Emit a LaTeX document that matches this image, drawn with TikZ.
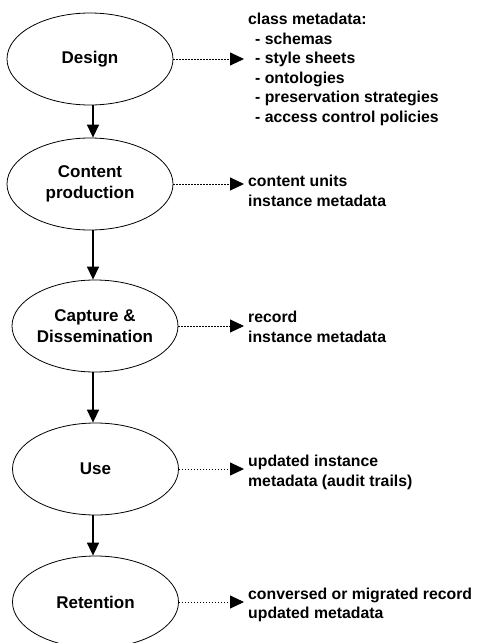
\documentclass[tikz,border=0pt]{standalone}
\usepackage{fontspec}
\setmainfont{Liberation Sans}
\usetikzlibrary{shapes.geometric,arrows.meta}
\begin{document}
\begin{tikzpicture}[x=1pt,y=-1pt,
  stage/.style={draw,ellipse,line width=0.8pt,minimum width=166pt,minimum height=92pt,
    inner sep=0pt,align=center,font=\bfseries\fontsize{17}{21}\selectfont},
  meta/.style={anchor=west,inner sep=0pt,align=left,font=\bfseries\fontsize{15.8}{19.5}\selectfont},
  flow/.style={-{Triangle[length=13pt,width=12pt]},line width=1.5pt},
  feed/.style={dash pattern=on 1.5pt off 1.5pt,line width=1pt,
    -{Triangle[length=14pt,width=13pt]},shorten >=4pt}
]

  \useasboundingbox (0,0) rectangle (477,643);

  \def\xtext{248}
  \coordinate (spine) at (93,0);

  % life cycle stages
  \node[stage] (design)    at (90,59)    {Design};
  \node[stage] (content)   at (90,184)   {Content\\production};
  \node[stage] (capture)   at (95,326)   {Capture \&\\Dissemination};
  \node[stage] (use)       at (95.5,469) {Use};
  \node[stage] (retention) at (95.5,602) {Retention};

  % metadata produced at each stage
  \node[meta,anchor=north west] (classmeta) at (\xtext,13) {class metadata:\\
    \hspace*{7pt}- schemas\\
    \hspace*{7pt}- style sheets\\
    \hspace*{7pt}- ontologies\\
    \hspace*{7pt}- preservation strategies\\
    \hspace*{7pt}- access control policies};
  \node[meta] (units)    at (\xtext,191)   {content units\\instance metadata};
  \node[meta] (record)   at (\xtext,327)   {record\\instance metadata};
  \node[meta] (trails)   at (\xtext,472.5) {updated instance\\metadata (audit trails)};
  \node[meta] (migrated) at (\xtext,605)   {conversed or migrated record\\updated metadata};

  % flow between stages
  \draw[flow] (design.south -| spine)  -- (content.north -| spine);
  \draw[flow] (content.south -| spine) -- (capture.north -| spine);
  \draw[flow] (capture.south -| spine) -- (use.north -| spine);
  \draw[flow] (use.south -| spine)     -- (retention.north -| spine);

  % dotted links to metadata
  \draw[feed] (design.east)    -- (design.east -| classmeta.west);
  \draw[feed] (content.east)   -- (content.east -| units.west);
  \draw[feed] (capture.east)   -- (capture.east -| record.west);
  \draw[feed] (use.east)       -- (use.east -| trails.west);
  \draw[feed] (retention.east) -- (retention.east -| migrated.west);

\end{tikzpicture}
\end{document}
